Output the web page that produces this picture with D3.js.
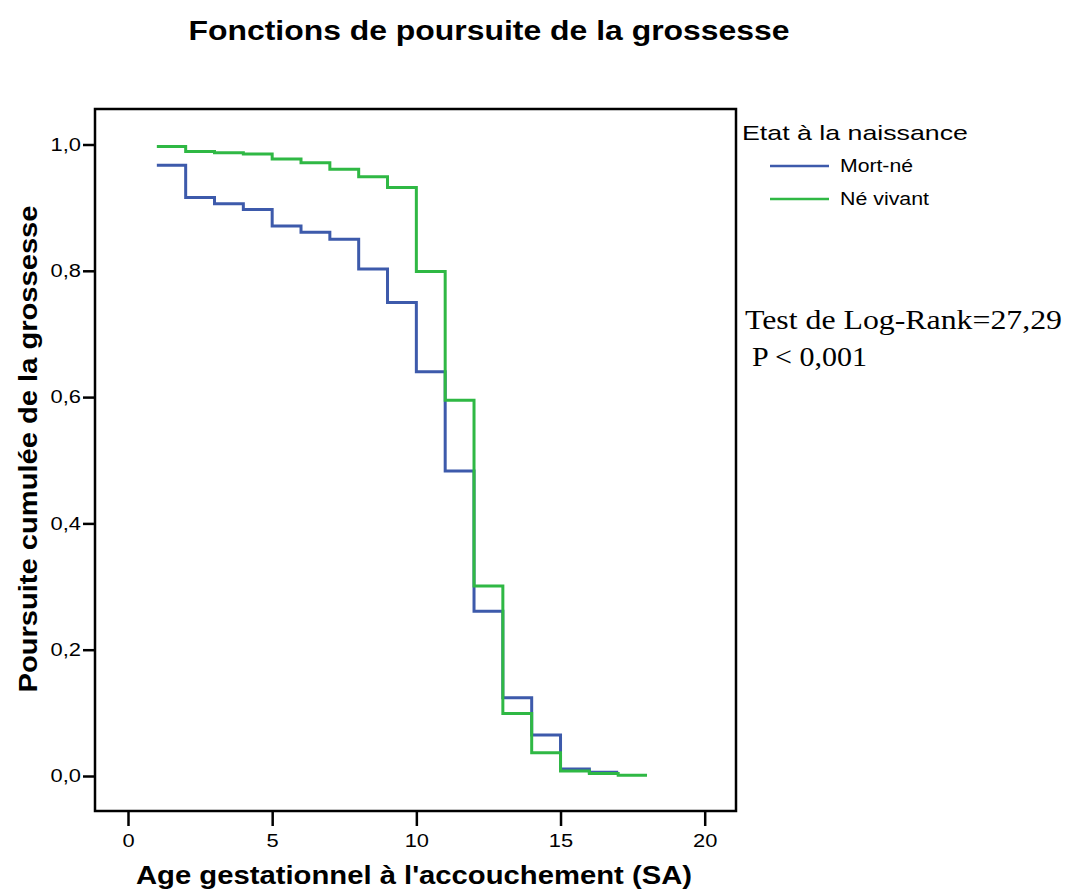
<!DOCTYPE html>
<html>
<head>
<meta charset="utf-8">
<script src="https://cdn.jsdelivr.net/npm/d3@7"></script>
<style>
  body { margin: 0; background: #fff; }
  svg { display: block; font-family: "Liberation Sans", Arial, sans-serif; }
</style>
</head>
<body>
<div id="chart"></div>
<script>
// --- data ---
const weeks = [1, 2, 3, 4, 5, 6, 7, 8, 9, 10, 11, 12, 13, 14, 15, 16, 17, 18];
const mortNe = [0.967, 0.916, 0.906, 0.897, 0.871, 0.861, 0.850, 0.803, 0.750, 0.640, 0.483, 0.261, 0.124, 0.065, 0.011, 0.006, 0.006];
const neVivant = [0.997, 0.989, 0.987, 0.985, 0.977, 0.971, 0.961, 0.949, 0.932, 0.799, 0.595, 0.301, 0.099, 0.037, 0.008, 0.004, 0.001, 0.001];
const xTicks = [0, 5, 10, 15, 20];
const yTicks = [0, 0.2, 0.4, 0.6, 0.8, 1.0];
const seriesNames = ["Mort-né", "Né vivant"];
const colors = ["#3d5aab", "#2fb844"];

const W = 1067, H = 895;
const frame = {left: 95, right: 736, top: 109, bottom: 811};
const K = 1.25; // texts in the picture are a bit wider than normal

const svg = d3.select("#chart").append("svg")
    .attr("width", W).attr("height", H);

const x = d3.scaleLinear().domain([0, 20]).range([128, 704.7]);
const y = d3.scaleLinear().domain([0, 1]).range([776, 144.5]);

// stretch helper
function widen(sel, k) {
    sel.attr("lengthAdjust", "spacingAndGlyphs")
       .attr("textLength", function() { return this.getComputedTextLength() * k; });
}

// titre
svg.append("text")
    .attr("x", 489).attr("y", 40)
    .attr("text-anchor", "middle")
    .style("font-size", "27px").style("font-weight", "bold")
    .text("Fonctions de poursuite de la grossesse")
    .attr("textLength", 601).attr("lengthAdjust", "spacingAndGlyphs");

// cadre
svg.append("rect")
    .attr("x", frame.left).attr("y", frame.top)
    .attr("width", frame.right - frame.left).attr("height", frame.bottom - frame.top)
    .attr("fill", "none").attr("stroke", "#000").attr("stroke-width", 2.5);

// assen
const fmt = d => d3.format(".1f")(d).replace(".", ",");
const yAxis = svg.append("g")
    .attr("transform", `translate(${frame.left},0)`)
    .call(d3.axisLeft(y).tickValues(yTicks).tickFormat(fmt).tickSize(12).tickPadding(2));
const xAxis = svg.append("g")
    .attr("transform", `translate(0,${frame.bottom})`)
    .call(d3.axisBottom(x).tickValues(xTicks).tickSize(15).tickPadding(9));
[yAxis, xAxis].forEach(a => {
    a.select(".domain").remove();
    a.selectAll("line").attr("stroke", "#000").attr("stroke-width", 2.5);
    a.selectAll("text").style("font-size", "17.5px").attr("fill", "#000")
        .style("font-family", "'Liberation Sans', Arial, sans-serif")
        .call(widen, K);
});

// courbes (escalier)
const line = d3.line()
    .x((d, i) => x(weeks[i]))
    .y(d => y(d))
    .curve(d3.curveStepAfter);

[mortNe, neVivant].forEach((vals, s) => {
    svg.append("path")
        .datum(vals)
        .attr("d", line)
        .attr("fill", "none")
        .attr("stroke", colors[s])
        .attr("stroke-width", 3);
});

// titres des axes
svg.append("text")
    .attr("x", 414).attr("y", 884)
    .attr("text-anchor", "middle")
    .style("font-size", "25px").style("font-weight", "bold")
    .text("Age gestationnel à l'accouchement (SA)")
    .attr("textLength", 556).attr("lengthAdjust", "spacingAndGlyphs");

svg.append("text")
    .attr("transform", "translate(37,449) rotate(-90)")
    .attr("text-anchor", "middle")
    .style("font-size", "26px").style("font-weight", "bold")
    .text("Poursuite cumulée de la grossesse")
    .attr("textLength", 487).attr("lengthAdjust", "spacingAndGlyphs");

// légende
svg.append("text")
    .attr("x", 742).attr("y", 140)
    .style("font-size", "21px")
    .text("Etat à la naissance")
    .attr("textLength", 226).attr("lengthAdjust", "spacingAndGlyphs");

const legendY = [166, 199];
const legendW = [73, 89];
seriesNames.forEach((name, i) => {
    svg.append("line")
        .attr("x1", 770).attr("x2", 829)
        .attr("y1", legendY[i]).attr("y2", legendY[i])
        .attr("stroke", colors[i]).attr("stroke-width", 2.5);
    svg.append("text")
        .attr("x", 840).attr("y", legendY[i] + 6)
        .style("font-size", "17.5px")
        .text(name)
        .attr("textLength", legendW[i]).attr("lengthAdjust", "spacingAndGlyphs");
});

// test
svg.append("text")
    .attr("x", 745).attr("y", 329)
    .style("font-family", "'Liberation Serif', 'Times New Roman', serif")
    .style("font-size", "27px")
    .text("Test de Log-Rank=27,29")
    .attr("textLength", 317).attr("lengthAdjust", "spacingAndGlyphs");
svg.append("text")
    .attr("x", 752).attr("y", 366)
    .style("font-family", "'Liberation Serif', 'Times New Roman', serif")
    .style("font-size", "27px")
    .text("P < 0,001")
    .attr("textLength", 115).attr("lengthAdjust", "spacingAndGlyphs");
</script>
</body>
</html>
